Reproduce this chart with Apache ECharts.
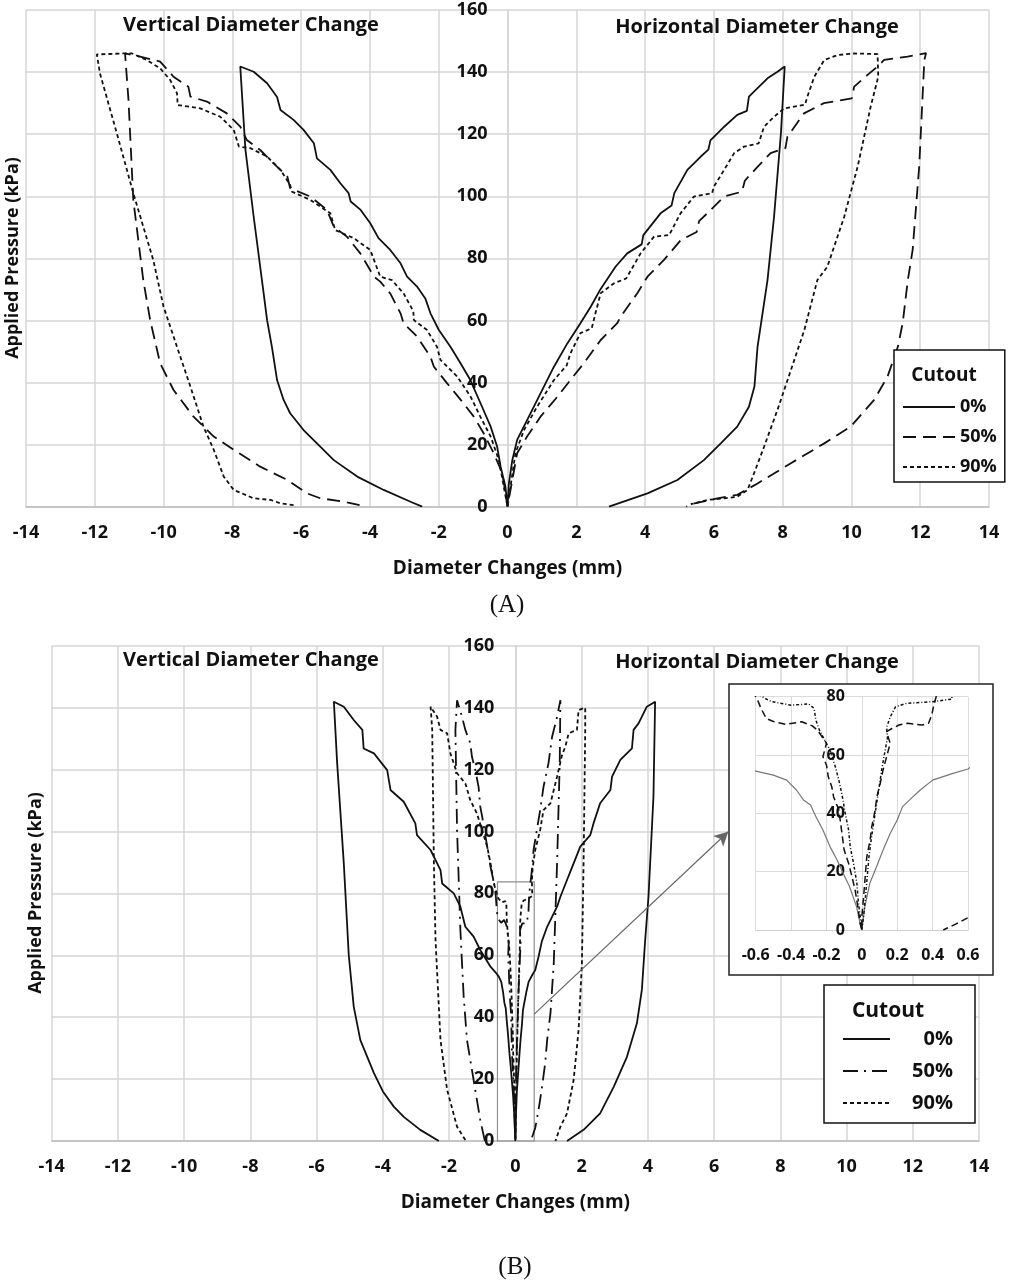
<!DOCTYPE html>
<html>
<head>
<meta charset="UTF-8">
<title>Diameter changes vs applied pressure</title>
<script src="https://cdn.jsdelivr.net/npm/echarts@6.0.0/dist/echarts.min.js"></script>
<style>
  html, body { margin: 0; padding: 0; background: #fff; }
  #chart { width: 1010px; height: 1282px; }
</style>
</head>
<body>
<div id="chart"></div>
<script>
  // ============ data (x: diameter change mm, y: applied pressure kPa) ============
  const cutouts = ['0%', '50%', '90%'];
  const xTicks = [-14, 14, 2];     // min, max, step
  const yTicks = [0, 160, 20];
  const insetXTicks = [-0.6, 0.6, 0.2];
  const insetYTicks = [0, 80, 20];

  // (A) vertical: residual -> peak -> origin ; horizontal: origin -> peak -> residual
  const A0_vert = [[-2.48,0],[-2.82,1.6],[-3.6,5.4],[-4.37,9.7],[-5.05,15],[-5.54,20.4],[-5.93,24.7],[-6.32,30.1],[-6.51,34.4],[-6.7,40.8],[-6.85,51.5],[-6.99,60.1],[-7.09,68.7],[-7.38,93.4],[-7.62,115],[-7.77,141.8],
    [-7.38,140.1],[-6.99,136.4],[-6.7,132],[-6.6,127.8],[-6.22,124.6],[-5.93,121.4],[-5.63,117.1],[-5.54,112.2],[-5.15,108.5],[-4.86,104.2],[-4.62,101],[-4.56,98.3],[-4.27,95.6],[-3.99,91.3],[-3.75,86.5],[-3.41,82.7],[-3.11,78.4],[-2.92,74.1],[-2.63,70.9],[-2.39,67.1],[-2.24,62.3],[-2.0,57],[-1.66,51.5],[-1.37,46.3],[-1.08,40.8],[-0.74,32.2],[-0.49,25.8],[-0.3,19.3],[-0.2,12.9],[-0.06,6.4],[0,0]];
  const A0_horz = [[0,0],[0.04,7.5],[0.14,15],[0.28,21.5],[0.57,27.9],[0.96,36.5],[1.35,45.1],[1.74,52.6],[2.12,59.1],[2.42,64.4],[2.7,70],[3.14,77.3],[3.48,81.6],[3.9,84.5],[3.95,87.5],[4.45,94.5],[4.77,97],[4.85,101],[5.23,108.5],[5.62,112.8],[5.84,115],[5.9,118],[6.3,122.4],[6.68,126.2],[6.96,127.5],[7.02,132.1],[7.27,134.8],[7.56,138],[7.85,140.1],[8.06,141.8],
    [7.95,120.3],[7.75,93.4],[7.56,73],[7.27,51.5],[7.18,38.7],[7.02,32.2],[6.68,25.8],[6.2,20.4],[5.71,15],[4.94,8.6],[4.07,4.3],[2.95,0]];
  const A50_vert = [[-4.3,0.5],[-4.86,1.8],[-5.44,2.7],[-5.83,4.3],[-6.4,8.6],[-7.19,12.9],[-7.96,18.3],[-8.54,22.6],[-9.13,29],[-9.71,37.6],[-10.1,46.2],[-10.39,60.1],[-10.59,73],[-10.88,98.8],[-11.02,131],[-11.12,146],
    [-10.68,145],[-10.1,143.4],[-9.71,138.5],[-9.28,135.3],[-9.22,132.1],[-8.74,130.5],[-8.16,126.7],[-7.77,122.4],[-7.58,118.1],[-7.19,114.9],[-6.8,110.6],[-6.4,106.3],[-6.32,102.6],[-5.73,99.9],[-5.25,95.6],[-5.05,90.2],[-4.67,87],[-4.28,81.6],[-3.88,74.1],[-3.7,72.5],[-3.41,68.7],[-3.11,62.3],[-3.02,59.1],[-2.63,54.8],[-2.24,48.3],[-2.14,45.1],[-1.76,39.8],[-1.36,34.4],[-0.98,29],[-0.69,23.6],[-0.4,17.2],[-0.15,10.8],[0,0]];
  const A50_horz = [[0,0],[0.28,17.2],[0.57,22.6],[0.96,29],[1.45,35.4],[1.83,40.8],[2.22,46.2],[2.71,53.7],[3.19,59.1],[3.29,61.2],[3.77,68.7],[4.07,74.1],[4.55,79.5],[5.04,85.9],[5.5,88.5],[5.57,92],[5.91,95.6],[6.3,99.9],[6.82,101.5],[6.9,105],[7.27,109.5],[7.65,113.9],[8.08,115.5],[8.14,119.2],[8.62,126.7],[9.2,130],[10.01,131.5],[10.08,135.3],[10.47,139.1],[10.76,141.8],[10.95,143.9],[11.63,145],[12.17,146.1],
    [12.12,143.9],[11.97,109.5],[11.78,82.7],[11.64,73],[11.49,59.1],[11.35,51.5],[11.05,41.9],[10.66,34.4],[9.98,25.8],[9.21,20.4],[8.24,14],[7.27,7.5],[6.68,3.8],[6.1,2.7],[5.33,0.8],[5.2,0]];
  const A90_vert = [[-6.22,0.5],[-6.6,1.1],[-6.89,2.2],[-7.38,2.7],[-7.96,5.4],[-8.25,9.7],[-8.54,18.3],[-8.84,25.8],[-9.22,38.7],[-9.61,51.5],[-10.0,64.4],[-10.3,79.5],[-10.59,90.2],[-10.88,101],[-11.36,120.3],[-11.85,139.6],[-11.94,145.7],[-11.17,146],[-10.92,146],
    [-10.49,143.9],[-10.1,141.2],[-9.81,137.5],[-9.61,133.2],[-9.59,129.4],[-8.93,128.3],[-8.35,125.6],[-7.96,121.4],[-7.81,116],[-7.48,115.5],[-6.99,112.8],[-6.6,108.5],[-6.32,103.6],[-6.27,101.5],[-5.73,98.8],[-5.15,94.5],[-5.01,89.1],[-4.47,86.5],[-3.99,82.7],[-3.7,74.1],[-3.36,73],[-3.02,68.7],[-2.74,63],[-2.72,60.1],[-2.34,56.9],[-2.05,51.5],[-1.95,47.3],[-1.46,41.9],[-1.07,35.4],[-0.79,29],[-0.49,22.6],[-0.25,15],[0,0]];
  const A90_horz = [[0,0],[0.23,17.2],[0.48,24.7],[0.86,32.2],[1.35,40.8],[1.72,45.5],[1.83,49.4],[2.12,55.9],[2.45,57.5],[2.55,62],[2.71,68.8],[3.1,72],[3.45,73.5],[3.87,81.6],[4.26,87],[4.7,87.5],[5.03,94.5],[5.42,99.9],[5.95,101],[6.0,103.1],[6.3,108.5],[6.59,113.9],[6.88,116],[7.3,117],[7.46,122.4],[7.75,125.6],[8.04,128.3],[8.65,129.5],[8.72,132.1],[8.92,138.5],[9.21,143.9],[9.6,145.5],[10.08,146],[10.76,145.8],
    [10.78,138.5],[10.56,128.9],[10.18,109.5],[9.79,93.4],[9.3,77.3],[9.01,73],[8.63,56.9],[8.24,44],[7.85,31.2],[7.46,19.3],[7.17,10.8],[6.98,5.4],[6.68,3.2],[6.3,2.7],[5.81,2.2],[5.33,0.8]];

  // (B)
  const B0_vert = [[-2.31,0],[-2.87,3.6],[-3.37,7.8],[-3.67,11.1],[-4.0,16],[-4.27,21.9],[-4.68,32.6],[-4.88,43.4],[-5.03,60],[-5.18,89.7],[-5.38,122],[-5.48,141.9],
    [-5.18,140.3],[-4.88,136],[-4.62,132.8],[-4.58,126.8],[-4.27,125.2],[-3.87,119.8],[-3.77,113.4],[-3.37,109.6],[-3.02,102.6],[-2.97,98.8],[-2.56,94],[-2.26,87.5],[-2.21,83.2],[-1.86,80],[-1.66,75.7],[-1.51,69.2],[-1.26,66],[-1.06,61.7],[-0.75,56.3],[-0.6,54.5],[-0.5,53.1],[-0.425,51.4],[-0.37,48],[-0.33,44.6],[-0.29,42.9],[-0.26,38.9],[-0.22,34.3],[-0.18,28.6],[-0.14,24],[-0.105,19.4],[-0.07,14.9],[-0.03,8],[-0.01,2.3],[0,0]];
  const B0_horz = [[0,0],[0.017,8],[0.045,16],[0.083,21.7],[0.12,27.4],[0.16,33.1],[0.2,37.7],[0.23,42.3],[0.27,44.6],[0.33,48],[0.4,51.4],[0.515,53.7],[0.6,55.2],[0.7,59.5],[0.8,64.5],[0.96,69.2],[1.26,75.7],[1.36,78.9],[1.56,84.3],[1.66,87],[1.76,89.7],[1.96,95.1],[2.26,98.8],[2.36,102.6],[2.56,109.1],[2.87,113.4],[2.92,117.7],[3.17,123.1],[3.52,126.8],[3.57,132.8],[3.72,134.9],[3.97,140.3],[4.22,141.9],
    [4.17,111.2],[4.02,78.9],[3.92,64.9],[3.82,48.8],[3.67,38],[3.37,27.2],[2.97,17.5],[2.56,8.9],[2.06,3.6],[1.56,0]];
  const B50_vert = [[-0.92,0],[-1.06,6.8],[-1.26,19.7],[-1.46,32.6],[-1.56,46.6],[-1.66,68.2],[-1.76,100.5],[-1.81,132.8],[-1.76,142.4],
    [-1.61,137],[-1.51,132.8],[-1.36,128.5],[-1.31,124.1],[-1.21,119.8],[-1.11,114.4],[-1.06,108],[-1.0,104.7],[-0.85,95.1],[-0.75,88.6],[-0.62,82],[-0.59,79],[-0.57,76],[-0.54,72.5],[-0.5,71.5],[-0.43,70.5],[-0.34,71.4],[-0.28,70],[-0.25,68.5],[-0.2,64],[-0.22,59.4],[-0.2,56.6],[-0.19,52.6],[-0.17,49.1],[-0.16,45.7],[-0.13,41.1],[-0.12,36.6],[-0.11,32],[-0.1,27.4],[-0.075,22.9],[-0.056,18.3],[-0.038,13.7],[-0.023,8],[-0.01,2.3],[0,0]];
  const B50_horz = [[0,0],[0,4.6],[0.01,11.4],[0.019,18.3],[0.028,25.1],[0.047,30.9],[0.056,35.4],[0.075,41.1],[0.085,45.7],[0.104,50.3],[0.12,54.9],[0.14,59.4],[0.16,64],[0.14,68],[0.17,69.1],[0.21,70.3],[0.26,70.9],[0.34,70.3],[0.377,70.9],[0.395,73.7],[0.405,76.6],[0.42,80],[0.5,87.5],[0.55,94],[0.65,100.5],[0.75,106.9],[0.85,114.4],[1.0,122],[1.11,130.6],[1.26,137],[1.36,142.4],
    [1.34,122],[1.26,89.7],[1.16,57.4],[1.06,41.2],[0.96,32.6],[0.9,25.1],[0.8,17],[0.7,10],[0.6,4.2],[0.53,2],[0.46,0]];
  const B90_vert = [[-1.51,0.3],[-1.76,4.6],[-2.06,16.5],[-2.26,32.6],[-2.41,64.9],[-2.46,89.7],[-2.51,132.8],[-2.56,140.3],
    [-2.36,137],[-2.26,132.8],[-2.06,131.7],[-1.96,125.2],[-1.76,118.8],[-1.51,115.5],[-1.36,110.1],[-1.16,105.8],[-0.85,95.1],[-0.75,89.7],[-0.65,83.2],[-0.55,79.5],[-0.51,78.3],[-0.4,77.1],[-0.3,77.5],[-0.27,76],[-0.26,72],[-0.24,68.6],[-0.21,65.1],[-0.18,61.7],[-0.15,56],[-0.13,51.4],[-0.11,45.7],[-0.094,40],[-0.075,34.3],[-0.066,28.6],[-0.047,22.9],[-0.028,16],[-0.019,9.1],[-0.004,2.3],[0,0]];
  const B90_horz = [[0,0],[0.01,5],[0.02,11],[0.03,18],[0.04,25],[0.055,32],[0.07,38],[0.085,44],[0.1,50],[0.115,56],[0.13,61],[0.145,66],[0.14,69.5],[0.16,73],[0.19,76.5],[0.25,77.7],[0.4,78.3],[0.51,79.2],[0.5,84],[0.52,88],[0.6,94],[0.75,100.5],[0.85,106.9],[1.06,109.1],[1.26,117.7],[1.41,124.7],[1.51,127.4],[1.61,131.7],[1.86,132.8],[1.91,139.2],[1.96,139.8],[2.11,140],
    [2.11,132.8],[2.06,89.7],[2.01,57.4],[1.91,35.9],[1.76,19.7],[1.56,8.9],[1.36,4.6],[1.21,0]];

  // zoom box drawn on (B) and arrow to the inset: [x, y] in data units
  const zoomBox = [[-0.54, -2], [0.57, 83.7]];
  const arrowLine = [[0.57, 41], [6.43, 99.9]];

  // ============ styles ============
  const SANS = '"Open Sans", Lato, sans-serif';
  const INK = '#111';
  const GRIDC = '#d6d6d6';
  const dashA = ['solid', [13, 7], [4, 3]];
  const dashB = ['solid', [15, 6, 2, 6], [4, 3]];

  // grid boxes (left, right, top, height) in px
  const gridA = [26, 21, 10, 496.7];
  const gridB = [51.7, 31, 645.7, 495.3];
  const gridI = [755.7, 42, 696.7, 233.3];
  const W = 1010;
  // shift a left y axis onto x = 0
  const zeroOffset = (g, t) => -(W - g[0] - g[1]) * (0 - t[0]) / (t[1] - t[0]);

  let chart = echarts.init(document.getElementById('chart'), null, {renderer: 'canvas'});

  function xAxisOf(grid, ticks, opt) {
    return Object.assign({
      type: 'value', gridIndex: grid, min: ticks[0], max: ticks[1], interval: ticks[2],
      axisLine: {onZero: false, lineStyle: {color: '#bdbdbd', width: 1.5}},
      axisTick: {show: false},
      axisLabel: {margin: 17, fontSize: 18, fontWeight: 'bold', fontFamily: SANS, color: INK},
      splitLine: {show: true, lineStyle: {color: GRIDC, width: 1.5}}
    }, opt || {});
  }
  function yAxisOf(grid, ticks, offset, opt) {
    return Object.assign({
      type: 'value', gridIndex: grid, min: ticks[0], max: ticks[1], interval: ticks[2],
      position: 'left', offset: offset,
      axisLine: {show: true, onZero: false, lineStyle: {color: GRIDC, width: 1.5}},
      axisTick: {show: false},
      axisLabel: {margin: 20, fontSize: 18, fontWeight: 'bold', fontFamily: SANS, color: INK},
      splitLine: {show: true, lineStyle: {color: GRIDC, width: 1.5}}
    }, opt || {});
  }
  function line(name, axis, data, dash, width, color, z) {
    return {
      type: 'line', name: name, xAxisIndex: axis, yAxisIndex: axis, data: data,
      symbol: 'none', showSymbol: false, smooth: false, clip: true, z: z || 2,
      lineStyle: {color: color || INK, width: width || 1.8, type: dash},
      itemStyle: {color: color || INK},
      emphasis: {disabled: true}, silent: true
    };
  }
  const fmtInset = v => (Math.abs(v) < 1e-9 ? '0' : v.toFixed(1));

  const seriesA = [A0_vert.concat(A0_horz), A50_vert.concat(A50_horz), A90_vert.concat(A90_horz)];
  const seriesB = [B0_vert.concat(B0_horz), B50_vert.concat(B50_horz), B90_vert.concat(B90_horz)];

  const series = [];
  cutouts.forEach((c, i) => series.push(line(c, 0, seriesA[i], dashA[i])));
  cutouts.forEach((c, i) => series.push(line('B ' + c, 1, seriesB[i], dashB[i])));
  // inset: same (B) data, seen through a small window
  const insetDash = ['solid', [7, 4], [3, 2, 1, 2]];
  cutouts.forEach((c, i) => series.push(line('B ' + c, 2, seriesB[i], insetDash[i],
    i === 0 ? 1.2 : 1.5, i === 0 ? '#777' : INK, 8)));

  // zoom box + arrow on (B)
  series[3].markArea = {
    silent: true, label: {show: false},
    itemStyle: {color: 'rgba(0,0,0,0)', borderColor: '#8f8f8f', borderWidth: 1.2},
    data: [[{coord: zoomBox[0]}, {coord: zoomBox[1]}]]
  };
  series[3].markLine = {
    silent: true, symbol: ['none', 'arrow'], symbolSize: [11, 14], label: {show: false},
    lineStyle: {color: '#666', width: 1.2, type: 'solid'},
    data: [[{coord: arrowLine[0]}, {coord: arrowLine[1]}]]
  };

  const legendBase = {
    orient: 'vertical', backgroundColor: '#fff', borderColor: '#111', borderWidth: 1.5,
    itemHeight: 20, itemGap: 12, selectedMode: false,
    itemStyle: {color: 'rgba(0,0,0,0)', borderWidth: 0}
  };

  const text = (t, x, y, size, extra) => Object.assign({
    type: 'text', x: x, y: y, z: 10,
    style: {text: t, font: 'bold ' + size + 'px ' + SANS, fill: INK, align: 'center', verticalAlign: 'middle'}
  }, extra || {});
  const nameStyle = {fontSize: 19, fontWeight: 'bold', fontFamily: SANS, color: INK};
  const gridOf = g => ({left: g[0], right: g[1], top: g[2], height: g[3]});

  let option = {
    animation: false,
    backgroundColor: '#fff',
    grid: [gridOf(gridA), gridOf(gridB), Object.assign(gridOf(gridI), {z: 6})],
    xAxis: [
      xAxisOf(0, xTicks, {name: 'Diameter Changes (mm)', nameLocation: 'middle', nameGap: 52, nameTextStyle: nameStyle}),
      xAxisOf(1, xTicks, {name: 'Diameter Changes (mm)', nameLocation: 'middle', nameGap: 52, nameTextStyle: nameStyle}),
      xAxisOf(2, insetXTicks, {z: 6,
        axisLine: {onZero: false, lineStyle: {color: '#cfcfcf', width: 1}},
        axisLabel: {margin: 17, fontSize: 16, fontWeight: 'bold', fontFamily: SANS, color: INK, formatter: fmtInset},
        splitLine: {show: true, lineStyle: {color: '#dcdcdc', width: 1}}})
    ],
    yAxis: [
      yAxisOf(0, yTicks, zeroOffset(gridA, xTicks)),
      yAxisOf(1, yTicks, zeroOffset(gridB, xTicks), {axisLabel: {margin: 21, fontSize: 18, fontWeight: 'bold', fontFamily: SANS, color: INK}}),
      yAxisOf(2, insetYTicks, zeroOffset(gridI, insetXTicks), {z: 6,
        axisLine: {show: true, onZero: false, lineStyle: {color: '#dcdcdc', width: 1}},
        axisLabel: {margin: 17, fontSize: 16, fontWeight: 'bold', fontFamily: SANS, color: INK},
        splitLine: {show: true, lineStyle: {color: '#dcdcdc', width: 1}}})
    ],
    legend: [
      Object.assign({}, legendBase, {
        data: cutouts, left: 894, top: 350, itemWidth: 52, padding: [48, 8, 6, 8],
        textStyle: {fontSize: 18, fontWeight: 'bold', fontFamily: SANS, color: INK}
      }),
      Object.assign({}, legendBase, {
        data: cutouts.map(c => 'B ' + c), left: 824, top: 985, itemWidth: 47, padding: [44, 22, 10, 18],
        formatter: n => '{t|' + n.slice(2) + '}',
        textStyle: {fontSize: 20, fontWeight: 'bold', fontFamily: SANS, color: INK,
          rich: {t: {width: 58, align: 'right', fontSize: 20, fontWeight: 'bold', fontFamily: SANS, color: INK}}}
      })
    ],
    graphic: [
      // inset frame
      {type: 'rect', z: 5, shape: {x: 729, y: 684, width: 264, height: 291},
        style: {fill: '#fff', stroke: '#222', lineWidth: 1.5}},
      text('Vertical Diameter Change', 251, 25, 20),
      text('Horizontal Diameter Change', 757, 27, 20),
      text('Vertical Diameter Change', 251, 660, 20),
      text('Horizontal Diameter Change', 757, 662, 20),
      text('Applied Pressure (kPa)', 13, 258, 18, {rotation: Math.PI / 2}),
      text('Applied Pressure (kPa)', 36, 893, 18, {rotation: Math.PI / 2}),
      text('Cutout', 944, 376, 19),
      text('Cutout', 888, 1011, 21),
      {type: 'text', x: 507, y: 605, z: 10, style: {text: '(A)', font: '25px "Liberation Serif", "DejaVu Serif", serif',
        fill: INK, align: 'center', verticalAlign: 'middle'}},
      {type: 'text', x: 515, y: 1267, z: 10, style: {text: '(B)', font: '25px "Liberation Serif", "DejaVu Serif", serif',
        fill: INK, align: 'center', verticalAlign: 'middle'}}
    ],
    series: series
  };

  chart.setOption(option);
</script>
</body>
</html>
